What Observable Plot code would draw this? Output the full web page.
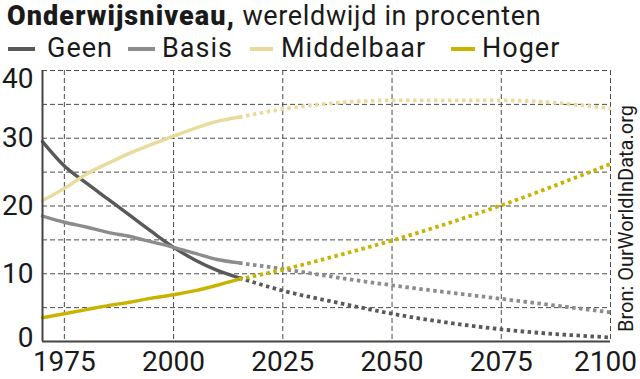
<!DOCTYPE html>
<html>
<head>
<meta charset="utf-8">
<script src="https://cdn.jsdelivr.net/npm/d3@7"></script>
<script src="https://cdn.jsdelivr.net/npm/@observablehq/plot@0.6"></script>
<style>
  html, body { margin: 0; padding: 0; background: #fff; }
  body { width: 640px; height: 379px; position: relative; overflow: hidden; font-family: Roboto, "Noto Sans", sans-serif; color: #1a1a1a; }
  #title { height: 32px; position: relative; }
  #title span.t { position: absolute; left: 7px; top: 0; line-height: 32px; font-size: 27px; white-space: nowrap; letter-spacing: 0.65px; }
  #title b { font-weight: 900; letter-spacing: 1.1px; }
  #legend { height: 30px; position: relative; font-size: 27px; line-height: 32px; letter-spacing: 1px; }
  #legend .sw { position: absolute; top: 15px; height: 4px; }
  #legend .lb { position: absolute; top: 0; white-space: nowrap; }
  #source { position: absolute; font-size: 20px; line-height: 20px; writing-mode: vertical-rl; transform: rotate(180deg); white-space: nowrap; color: #1a1a1a; }
  svg { display: block; }
</style>
</head>
<body>
<div id="title"><span class="t"><b>Onderwijsniveau,</b> wereldwijd in procenten</span></div>
<div id="legend"></div>
<div id="chart"></div>
<div id="source"></div>
<script>
// Series names and colours
const seriesNames = ["Geen", "Basis", "Middelbaar", "Hoger"];
const seriesColors = ["#59595b", "#8c8c8e", "#e8db9c", "#c9b300"];

// Historical data (solid)
const histYears = [1970, 1975, 1980, 1985, 1990, 1995, 2000, 2005, 2010, 2015];
const geenHist = [29.5, 25.9, 23.4, 21.0, 18.6, 16.2, 13.9, 12.0, 10.5, 9.4];
const basisHist = [18.5, 17.6, 16.9, 16.1, 15.5, 14.7, 13.9, 13.0, 12.1, 11.6];
const middelbaarHist = [20.8, 22.6, 24.7, 26.3, 27.8, 29.1, 30.3, 31.5, 32.5, 33.1];
const hogerHist = [3.5, 4.1, 4.7, 5.3, 5.8, 6.4, 6.9, 7.5, 8.3, 9.2];

// Projections (dotted)
const projYears = [2015, 2025, 2037, 2050, 2075, 2100];
const geenProj = [9.4, 7.5, 5.8, 4.1, 1.8, 0.6];
const basisProj = [11.6, 10.7, 9.5, 8.3, 6.3, 4.3];
const middelbaarProj = [33.1, 34.3, 35.2, 35.6, 35.6, 34.4];
const hogerProj = [9.2, 10.6, 12.6, 14.9, 20.1, 26.2];

// Axis ticks
const yGrid = [5, 10, 15, 20, 25, 30, 35, 40];
const xTicks = [1975, 2000, 2025, 2050, 2075, 2100];

const sourceText = "Bron: OurWorldInData.org";

const histSeries = [geenHist, basisHist, middelbaarHist, hogerHist];
const projSeries = [geenProj, basisProj, middelbaarProj, hogerProj];
const hist = [], proj = [];
seriesNames.forEach((name, i) => {
  histYears.forEach((yr, j) => hist.push({year: yr, value: histSeries[i][j], series: name}));
  projYears.forEach((yr, j) => proj.push({year: yr, value: projSeries[i][j], series: name}));
});

// Legend
const legendPos = [[8, 27, 47], [128, 27, 162], [250, 23, 281], [451, 24, 482]];
const legend = document.getElementById("legend");
seriesNames.forEach((name, i) => {
  const [sx, sw, tx] = legendPos[i];
  const s = document.createElement("div");
  s.className = "sw"; s.style.left = sx + "px"; s.style.width = sw + "px"; s.style.background = seriesColors[i];
  const t = document.createElement("div");
  t.className = "lb"; t.style.left = tx + "px"; t.textContent = name;
  legend.appendChild(s); legend.appendChild(t);
});

const src = document.getElementById("source");
src.textContent = sourceText;
src.style.left = "616px";
src.style.top = "105px";

const grid = {stroke: "#4a4a4a", strokeWidth: 1, strokeDasharray: "5,3"};
const fmt = d3.format("d");

const chart = Plot.plot({
  width: 640,
  height: 317,
  marginTop: 8,
  marginBottom: 38,
  marginLeft: 42,
  marginRight: 30,
  style: {fontFamily: "Roboto, 'Noto Sans', sans-serif", fontSize: "28px", color: "#1a1a1a", background: "transparent"},
  x: {domain: [1970, 2100]},
  y: {domain: [0, 40]},
  color: {domain: seriesNames, range: seriesColors},
  marks: [
    Plot.ruleY(yGrid, {y: d => d, ...grid}),
    Plot.ruleX(xTicks, {x: d => d, ...grid}),
    Plot.line(hist, {x: "year", y: "value", z: "series", stroke: "series", strokeWidth: 3.4, curve: "monotone-x"}),
    Plot.line(proj, {x: "year", y: "value", z: "series", stroke: "series", strokeWidth: 3.8, strokeDasharray: "3.5,3.5", strokeLinecap: "butt", curve: "monotone-x"}),
    Plot.ruleY([0], {stroke: "#444", strokeWidth: 2}),
    Plot.ruleX([1970], {stroke: "#444", strokeWidth: 2}),
    Plot.axisY([10, 20, 30], {tickSize: 0, tickPadding: 9, label: null, fontSize: 28}),
    Plot.axisY([40], {tickSize: 0, tickPadding: 9, label: null, fontSize: 28, dy: 9}),
    Plot.axisY([0], {tickSize: 0, tickPadding: 9, label: null, fontSize: 28, dy: -3}),
    Plot.axisX(xTicks.slice(0, 5), {tickSize: 0, tickPadding: 10, label: null, fontSize: 28, tickFormat: fmt}),
    Plot.axisX(xTicks.slice(5), {tickSize: 0, tickPadding: 10, label: null, fontSize: 28, dx: -5, tickFormat: fmt})
  ]
});
document.getElementById("chart").appendChild(chart);
</script>
</body>
</html>
